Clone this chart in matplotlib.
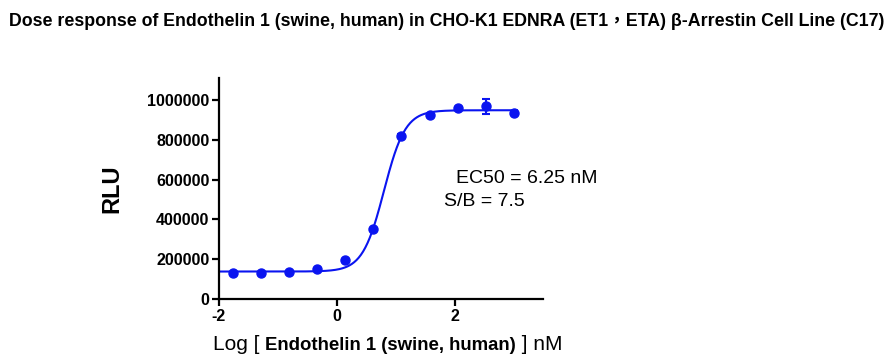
import numpy as np
import matplotlib
matplotlib.use("Agg")
import matplotlib.pyplot as plt

plt.rcParams['font.family'] = ['Liberation Sans', 'Noto Sans CJK TC', 'DejaVu Sans']
plt.rcParams['axes.unicode_minus'] = False

# Data
log_conc = [-1.771, -1.294, -0.817, -0.340, 0.137, 0.614, 1.092, 1.569, 2.046, 2.523, 3.000]
rlu = [129000, 130000, 135000, 149000, 198000, 350000, 821000, 922000, 957000, 967000, 935000]
rlu_err = [4000, 4000, 4000, 4000, 4000, 5000, 6000, 6000, 6000, 36000, 5000]

# Fitted 4PL parameters
bottom, top, log_ec50, hill = 138000, 948000, np.log10(6.25), 2.4

title = "Dose response of Endothelin 1 (swine, human) in CHO-K1 EDNRA (ET1\uff0cETA) \u03b2-Arrestin Cell Line (C17)"
blue = '#0a14f0'

fig = plt.figure(figsize=(8.93, 3.59), dpi=100)
ax = fig.add_axes([219/893, 60/359, (543.5-219)/893, (299-78)/359])

xf = np.linspace(-2, 3.05, 400)
yf = bottom + (top - bottom) / (1 + 10 ** ((log_ec50 - xf) * hill))
ax.plot(xf, yf, color=blue, lw=1.5, zorder=2)
ax.errorbar(log_conc, rlu, yerr=rlu_err, fmt='o', color=blue, ms=6.5,
            capsize=3, elinewidth=1.5, capthick=1.5, zorder=3)

ax.set_xlim(-2, 3.5)
ax.set_ylim(0, 1.11e6)
ax.set_xticks([-2, 0, 2])
ax.set_xticklabels(['-2', '0', '2'])
ax.set_yticks(np.arange(0, 1000001, 200000))
ax.set_yticklabels([str(v) for v in range(0, 1000001, 200000)])
for s in ['top', 'right']:
    ax.spines[s].set_visible(False)
for s in ['left', 'bottom']:
    ax.spines[s].set_linewidth(1.6)
ax.tick_params(width=1.6, length=5, labelsize=11.5, pad=2)
for lab in ax.get_xticklabels() + ax.get_yticklabels():
    lab.set_fontweight('bold')

ax.set_ylabel('RLU', fontsize=17, fontweight='bold', labelpad=17)

fig.text(0.5, 1 - 21/359, title, ha='center', va='center', fontsize=12.75, fontweight='bold')

fig.text(456/893, 1 - 178/359, 'EC50 = 6.25 nM', ha='left', va='center', fontsize=14)
fig.text(444/893, 1 - 201/359, 'S/B = 7.5', ha='left', va='center', fontsize=14)

# composite x label
fig.canvas.draw()
r = fig.canvas.get_renderer()
parts = [("Log [ ", 15, 'normal'), ("Endothelin 1 (swine, human)", 13.4, 'bold'), (" ] nM", 15, 'normal')]
texts = []
widths = []
for s, fs, fw in parts:
    t = fig.text(0, 0, s, fontsize=fs, fontweight=fw, ha='left', va='baseline')
    texts.append(t)
    widths.append(t.get_window_extent(r).width)
total = sum(widths)
cx = (213 + 562) / 2
x0 = cx - total / 2
base_y = 359 - 350
for t, w in zip(texts, widths):
    t.set_position((x0 / 893, base_y / 359))
    x0 += w

fig.savefig('out.png', dpi=100)
